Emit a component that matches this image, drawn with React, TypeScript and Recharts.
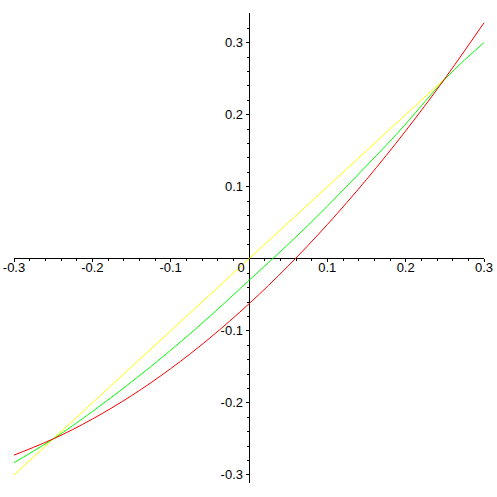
import { LineChart, Line, XAxis, YAxis, ReferenceLine, ReferenceDot } from "recharts"

// sample x positions and the three curves
const xs = [-0.3, -0.25, -0.2, -0.15, -0.1, -0.05, 0, 0.05, 0.1, 0.15, 0.2, 0.25, 0.3]
const redCurve = [-0.2725, -0.25, -0.2225, -0.19, -0.1525, -0.11, -0.0625, -0.01, 0.0475, 0.11, 0.1775, 0.25, 0.3275]
const greenCurve = [-0.283, -0.25, -0.212, -0.171, -0.127, -0.08, -0.03, 0.02, 0.073, 0.129, 0.187, 0.249, 0.3]
const yellowCurve = [-0.3, -0.25, -0.2, -0.15, -0.1, -0.05, 0, 0.05, 0.1, 0.15, 0.2, 0.25, null]

// axis ticks
const xMajor = [-0.3, -0.2, -0.1, 0, 0.1, 0.2, 0.3]
const xLabels = ["-0.3", "-0.2", "-0.1", "0", "0.1", "0.2", "0.3"]
const xMinor = [
  -0.28, -0.26, -0.24, -0.22, -0.18, -0.16, -0.14, -0.12, -0.08, -0.06, -0.04, -0.02,
  0.02, 0.04, 0.06, 0.08, 0.12, 0.14, 0.16, 0.18, 0.22, 0.24, 0.26, 0.28,
]
const yMajor = [-0.3, -0.2, -0.1, 0.1, 0.2, 0.3]
const yLabels = ["-0.3", "-0.2", "-0.1", "0.1", "0.2", "0.3"]
const yMinor = [
  -0.28, -0.26, -0.24, -0.22, -0.18, -0.16, -0.14, -0.12, -0.08, -0.06, -0.04, -0.02,
  0.02, 0.04, 0.06, 0.08, 0.12, 0.14, 0.16, 0.18, 0.22, 0.24, 0.26, 0.28, 0.32,
]

const data = xs.map((x, i) => ({
  x,
  red: redCurve[i],
  green: greenCurve[i],
  yellow: yellowCurve[i],
}))

const font = { fontFamily: "'Liberation Sans', Arial, sans-serif", fontSize: 13 }

function xTick(len: number, label?: string) {
  return (props: any) => {
    const { cx, cy } = props
    return (
      <g>
        <line x1={cx} y1={cy} x2={cx} y2={cy + len} stroke="#000" shapeRendering="crispEdges" />
        {label && (
          <text x={cx + (label === "0" ? -8 : 0)} y={cy + 13} textAnchor="middle" fill="#000" style={font}>
            {label}
          </text>
        )}
      </g>
    )
  }
}

function yTick(len: number, label?: string) {
  return (props: any) => {
    const { cx, cy } = props
    return (
      <g>
        <line x1={cx - len} y1={cy} x2={cx} y2={cy} stroke="#000" shapeRendering="crispEdges" />
        {label && (
          <text x={cx - 6} y={cy + 4.5} textAnchor="end" fill="#000" style={font}>
            {label}
          </text>
        )}
      </g>
    )
  }
}

export default function App() {
  return (
    <div style={{ position: "absolute", left: 0, top: 0, width: 497, height: 497, background: "#fff" }}>
      <LineChart width={497} height={497} data={data} margin={{ top: 13, right: 13, bottom: 14, left: 14 }}>
        <XAxis dataKey="x" type="number" domain={[-0.3, 0.3]} hide />
        <YAxis type="number" domain={[-0.3112, 0.3411]} hide />
        <ReferenceLine y={0} stroke="#000" shapeRendering="crispEdges" />
        <ReferenceLine x={0} stroke="#000" shapeRendering="crispEdges" />
        {xMinor.map(t => (
          <ReferenceDot key={`xm${t}`} x={t} y={0} ifOverflow="visible" shape={xTick(2)} />
        ))}
        {xMajor.map((t, i) => (
          <ReferenceDot key={`xM${t}`} x={t} y={0} ifOverflow="visible" shape={xTick(3, xLabels[i])} />
        ))}
        {yMinor.map(t => (
          <ReferenceDot key={`ym${t}`} x={0} y={t} ifOverflow="visible" shape={yTick(2)} />
        ))}
        {yMajor.map((t, i) => (
          <ReferenceDot key={`yM${t}`} x={0} y={t} ifOverflow="visible" shape={yTick(3, yLabels[i])} />
        ))}
        <Line type="linear" dataKey="yellow" stroke="#ffff00" strokeWidth={1} dot={false} isAnimationActive={false} />
        <Line type="natural" dataKey="green" stroke="#00ff00" strokeWidth={1} dot={false} isAnimationActive={false} />
        <Line type="natural" dataKey="red" stroke="#ff0000" strokeWidth={1} dot={false} isAnimationActive={false} />
      </LineChart>
    </div>
  )
}
